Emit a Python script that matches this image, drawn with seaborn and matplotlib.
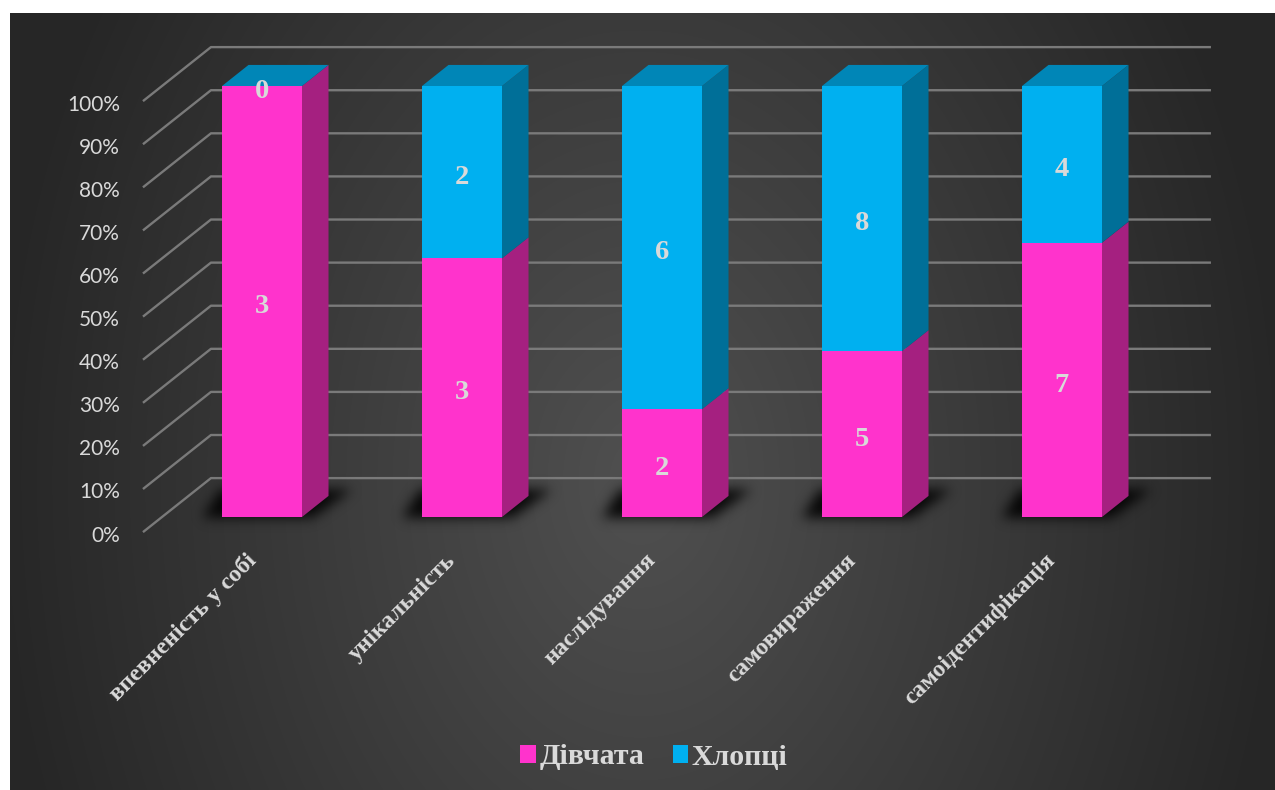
import numpy as np
import pandas as pd
import matplotlib
matplotlib.use("Agg")
import matplotlib.pyplot as plt
import seaborn as sns
from matplotlib.patches import Polygon
from matplotlib.path import Path

# ---- data ----
categories = ["впевненість у собі", "унікальність", "наслідування", "самовираження", "самоідентифікація"]
girls = [3, 3, 2, 5, 7]
boys = [0, 2, 6, 8, 4]
series_names = ["Дівчата", "Хлопці"]
y_ticks = [0, 10, 20, 30, 40, 50, 60, 70, 80, 90, 100]
y_tick_labels = [f"{v}%" for v in y_ticks]

# ---- style ----
PINK, PINK_SIDE = "#ff33cc", "#a52080"
BLUE, BLUE_SIDE, BLUE_TOP = "#00b0f0", "#006f98", "#0086b7"
TEXT = "#d9d9d9"
GRID = "#7a7a7a"
SERIF = "Liberation Serif"

sns.set_theme(style="white")
plt.rcParams["font.family"] = ["DejaVu Sans"]

W, H = 1275, 790
fig = plt.figure(figsize=(W / 100, H / 100), dpi=100)
fig.patch.set_facecolor("white")

# radial dark backdrop
bg = fig.add_axes([0, 0, 1, 1])
bg.set_xlim(0, W)
bg.set_ylim(H, 0)
bg.axis("off")
yy, xx = np.mgrid[0:H, 0:W]
r = np.clip(np.sqrt(((xx - 640) / 650.0) ** 2 + ((yy - 480) / 900.0) ** 2), 0, 1)
lev = (80 - 42 * r) / 255.0
img = np.dstack([lev, lev, lev])
img[:13, :] = 1.0
img[:, :10] = 1.0
bg.imshow(img, extent=(0, W, H, 0), aspect="auto", interpolation="bilinear")

# plotting axes: bar front faces live here
ax = fig.add_axes([162 / W, (H - 517) / H, 1000 / W, 431 / H])
ax.patch.set_alpha(0)

totals = np.array(girls, float) + np.array(boys, float)
girls_pct = 100 * np.array(girls) / totals
df = pd.DataFrame({"category": categories, "total": 100.0, "girls_pct": girls_pct})

BAR_W = 0.4
sns.barplot(data=df, x="category", y="total", color=BLUE, saturation=1, width=BAR_W,
            errorbar=None, linewidth=0, ax=ax, zorder=4, label=series_names[1])
sns.barplot(data=df, x="category", y="girls_pct", color=PINK, saturation=1, width=BAR_W,
            errorbar=None, linewidth=0, ax=ax, zorder=5, label=series_names[0])

XMIN, XMAX = -0.5, len(categories) - 0.5
ax.set_xlim(XMIN, XMAX)
ax.set_ylim(0, 100)
ax.axis("off")

# depth of the walls (data units), bar front plane position and bar depth
DX, DY = 0.34, 12.53
T_FRONT = 0.28
BAR_DEPTH = 0.39
bdx, bdy = BAR_DEPTH * DX, BAR_DEPTH * DY

# wall gridlines: diagonal on the left wall, horizontal on the back wall
for v in y_ticks:
    fx, fy = XMIN - T_FRONT * DX, v - T_FRONT * DY
    bx, by = XMIN + (1 - T_FRONT) * DX, v + (1 - T_FRONT) * DY
    ax.plot([fx, bx, XMAX + (1 - T_FRONT) * DX], [fy, by, by], color=GRID,
            lw=1.7, solid_capstyle="butt", zorder=1, clip_on=False)

# floor shadows (blurred footprints)
xs = np.linspace(-0.7, 4.9, 1120)
ys = np.linspace(-10, 16, 112)
gx, gy = np.meshgrid(xs, ys)
pts = np.column_stack([gx.ravel(), gy.ravel()])
mask = np.zeros(gx.size)
for i in range(len(categories)):
    x0, x1 = i - BAR_W / 2, i + BAR_W / 2
    poly = Path([(x0 - 0.1, -0.3), (x1 + 0.05, -0.3), (x1 + 0.25, 6.3), (x0 - 0.01, 6.3)])
    mask = np.maximum(mask, poly.contains_points(pts).astype(float))
mask = mask.reshape(gx.shape)
k = np.exp(-0.5 * (np.arange(-18, 19) / 6.0) ** 2)
k /= k.sum()
mask = np.apply_along_axis(lambda m: np.convolve(m, k, mode="same"), 1, mask)
mask = np.apply_along_axis(lambda m: np.convolve(m, k, mode="same"), 0, mask)
shadow = np.zeros(mask.shape + (4,))
shadow[..., 3] = np.clip(mask * 0.9, 0, 1)
sh = ax.imshow(shadow, extent=(xs[0], xs[-1], ys[0], ys[-1]), origin="lower",
               aspect="auto", interpolation="bilinear", zorder=2)
sh.set_clip_on(False)
ax.set_xlim(XMIN, XMAX)
ax.set_ylim(0, 100)

# side and top faces of each bar
for i, p in enumerate(girls_pct):
    x0, x1 = i - BAR_W / 2, i + BAR_W / 2
    faces = [
        ([(x1, 0), (x1 + bdx, bdy), (x1 + bdx, p + bdy), (x1, p)], PINK_SIDE),
        ([(x1, p), (x1 + bdx, p + bdy), (x1 + bdx, 100 + bdy), (x1, 100)], BLUE_SIDE),
        ([(x0, 100), (x1, 100), (x1 + bdx, 100 + bdy), (x0 + bdx, 100 + bdy)], BLUE_TOP),
    ]
    for verts, col in faces:
        ax.add_patch(Polygon(verts, closed=True, facecolor=col, edgecolor="none",
                             zorder=3, clip_on=False))

# value labels, centred in each segment
LABEL_DROP = 1.2
for i, (g, b, p) in enumerate(zip(girls, boys, girls_pct)):
    for val, yc in ((g, p / 2), (b, p + (100 - p) / 2)):
        ax.text(i, yc - LABEL_DROP, str(val), ha="center", va="center", color=TEXT,
                fontsize=20.5, fontweight="bold", family=SERIF, zorder=6, clip_on=False)

# y tick labels at the front ends of the gridlines
for v, lab in zip(y_ticks, y_tick_labels):
    ax.text(XMIN - T_FRONT * DX - 0.115, v - T_FRONT * DY - 0.8, lab, ha="right",
            va="center", color=TEXT, fontsize=15, family="Lato", clip_on=False)

# category labels
for i, lab in enumerate(categories):
    ax.text(i - 0.085, -7.6, lab, rotation=45, rotation_mode="anchor", ha="right", va="top",
            color=TEXT, fontsize=17.5, fontweight="bold", family=SERIF, clip_on=False)

# legend
handles, labels = ax.get_legend_handles_labels()
order = [labels.index(n) for n in series_names]
leg = ax.legend([handles[j] for j in order], [labels[j] for j in order],
                loc="center", bbox_to_anchor=(654 / W, 1 - 757 / H),
                bbox_transform=fig.transFigure, ncol=2, frameon=False,
                handlelength=0.52, handleheight=0.52, handletextpad=0.12, columnspacing=0.95,
                prop={"family": SERIF, "weight": "bold", "size": 21.5})
for t in leg.get_texts():
    t.set_color(TEXT)

fig.savefig("out.png", dpi=100)
